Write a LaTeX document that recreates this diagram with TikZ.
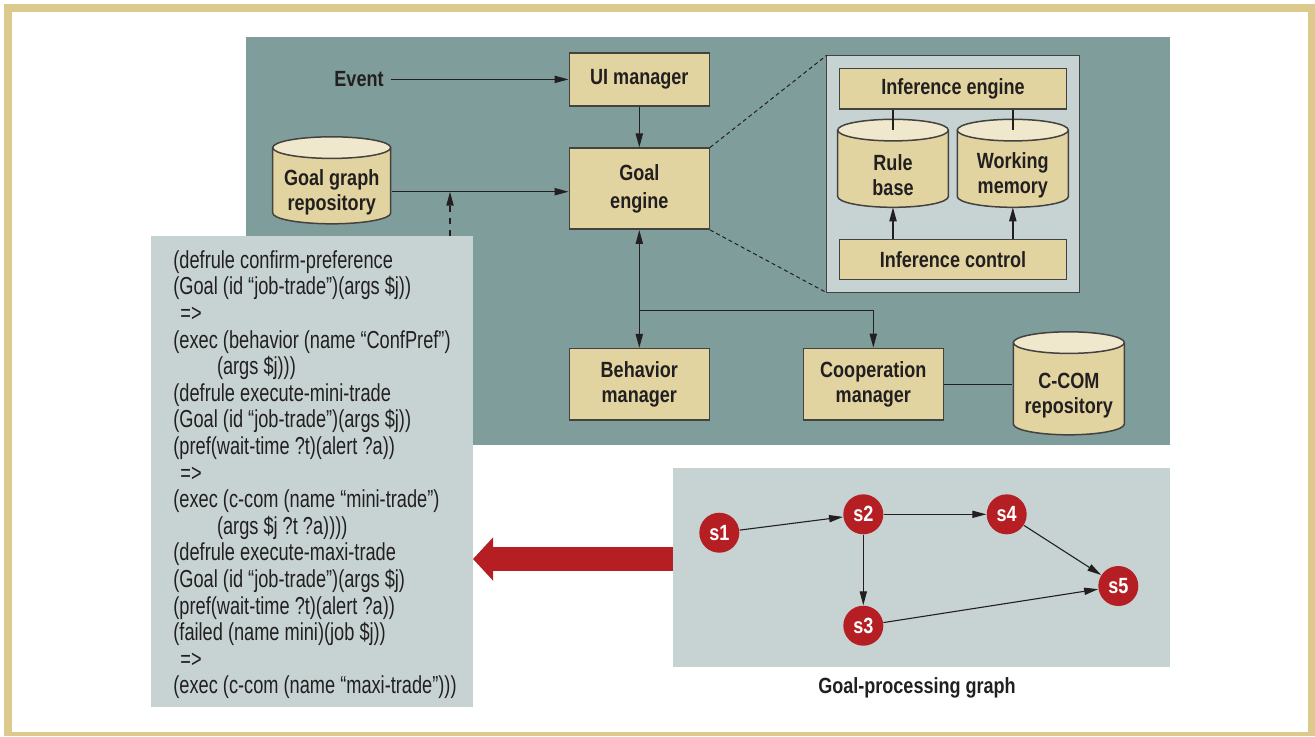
\documentclass[tikz,border=0pt]{standalone}
\usepackage{fontspec}
\setmainfont{Liberation Sans}[FakeStretch=0.82]
\newfontfamily\codefont{Liberation Sans}[FakeStretch=0.74]
\usetikzlibrary{arrows.meta,calc}

\definecolor{frametan}{HTML}{DCCA8C}
\definecolor{panelteal}{HTML}{7F9E9B}
\definecolor{panellight}{HTML}{C6D3D2}
\definecolor{boxtan}{HTML}{E2D4A0}
\definecolor{captan}{HTML}{F0E8CC}
\definecolor{statered}{HTML}{B51F24}
\definecolor{ink}{HTML}{231F20}

\tikzset{
  panel/.style={inner sep=0pt, outer sep=0pt},
  box/.style={draw=ink!85, line width=0.75pt, fill=boxtan, text=ink,
    font=\fontsize{11}{12.5}\selectfont\bfseries, align=center, inner sep=0pt},
  % a drum: body and lid drawn inside the node's box, text sits below the lid
  store/.style={inner sep=0pt, outer sep=0pt, text=ink,
    font=\fontsize{11}{12.5}\selectfont\bfseries,
    execute at begin node={\begin{minipage}[c][32pt][b]{54pt}\centering},
    execute at end node={\end{minipage}},
    path picture={
      \coordinate (drumnw) at ([shift={(0.5pt,-0.5pt)}]path picture bounding box.north west);
      \coordinate (drumse) at ([shift={(-0.5pt,0.5pt)}]path picture bounding box.south east);
      \draw[draw=ink!85, line width=0.75pt, fill=boxtan]
        let \p1=(drumnw), \p2=(drumse), \n1={(\x2-\x1)/2} in
        (\x1,\y1-5.4pt) -- (\x1,\y2+5.4pt)
        arc[start angle=180, end angle=360, x radius=\n1, y radius=5.4pt]
        -- (\x2,\y1-5.4pt);
      \draw[draw=ink!85, line width=0.75pt, fill=captan]
        let \p1=(drumnw), \p2=(drumse), \n1={(\x2-\x1)/2} in
        ({(\x1+\x2)/2},\y1-5.4pt) ellipse[x radius=\n1, y radius=5.4pt];
    }},
  state/.style={circle, fill=statered, text=white, minimum size=20pt,
    inner sep=0pt, font=\fontsize{11}{12}\selectfont\bfseries},
  link/.style={draw=ink, line width=0.7pt},
  edge/.style={draw=ink, line width=0.55pt}
}

\begin{document}
\begin{tikzpicture}[x=0.5pt, y=-0.5pt, >={Triangle[length=7pt,width=3.6pt]}]

	\useasboundingbox (0,0) rectangle (1315,736);
	\fill[white] (0,0) rectangle (1315,736);
	% frame
	\fill[frametan] (4,4) rectangle (1315,736);
	\fill[white] (12,12) rectangle (1308,732);

	% panels
	\node[panel, fill=panelteal, minimum width=462pt, minimum height=204pt] (main) at (708,241) {};
	\node[panel, fill=panellight, minimum width=161pt, minimum height=235.5pt] (code) at (312,471.5) {};
	\node[panel, fill=panellight, minimum width=248.5pt, minimum height=99.5pt] (gp) at (921.5,567.5) {};
	\node[panel, fill=panellight, draw=ink!85, line width=0.75pt, minimum width=126.3pt, minimum height=118.7pt] (ip) at (953,174) {};

	% agent components
	\node[box, minimum width=70pt, minimum height=26.5pt] (ui) at (639.3,79.4) {UI manager};
	\node[box, minimum width=70pt, minimum height=40.5pt, font=\fontsize{11}{14}\selectfont\bfseries] (ge) at (639.3,188.7) {Goal\\engine};
	\node[box, minimum width=70pt, minimum height=35.7pt] (bm) at (639.3,384.3) {Behavior\\manager};
	\node[box, minimum width=70pt, minimum height=35.8pt] (cm) at (873.3,384.2) {Cooperation\\manager};
	\node[store, minimum width=60pt, minimum height=44.5pt] (ggr) at (331.7,180.3) {Goal graph\\repository};
	\node[store, minimum width=56.5pt, minimum height=52.5pt] (ccom) at (1068.8,383.3) {C-COM\\repository};
	\node[text=ink, font=\fontsize{11}{12.5}\selectfont\bfseries] (event) at (359,79.4) {Event};

	% inference engine detail
	\node[box, minimum width=113.7pt, minimum height=20.4pt] (ie) at (953,88.7) {Inference engine};
	\node[box, minimum width=113.7pt, minimum height=20pt] (ic) at (953,259.3) {Inference control};
	\node[store, minimum width=56.3pt, minimum height=45pt] (rb) at (893,163.3) {Rule\\base};
	\node[store, minimum width=56.5pt, minimum height=45pt] (wm) at (1012.8,163.3) {Working\\memory};

	% connectors
	\coordinate (tap) at (450,191.7);
	\draw[link,->] (event) -- (ui);
	\draw[link,->] (ui) -- (ge);
	\draw[link,->] (ggr.east |- tap) -- (ge.west |- tap);
	\draw[link,dashed,->] (code.north -| tap) -- (tap);
	\draw[link,<->] (ge) -- (bm);
	\coordinate (split) at ($(ge.south)!0.685!(bm.north)$);
	\draw[link,->] (split) -| (cm.north);
	\draw[link] (cm.east) -- (cm.east -| ccom.west);
	\draw[link,dash pattern=on 2pt off 1.5pt,line width=0.5pt] (ge.north east) -- (ip.north west);
	\draw[link,dash pattern=on 2pt off 1.5pt,line width=0.5pt] (ge.south east) -- (ip.south west);
	\draw[link] (ie.south -| rb) -- ([yshift=-5.9pt]rb.north);
	\draw[link] (ie.south -| wm) -- ([yshift=-5.9pt]wm.north);
	\draw[link,->] (ic.north -| rb) -- ([yshift=0.5pt]rb.south);
	\draw[link,->] (ic.north -| wm) -- ([yshift=0.5pt]wm.south);

	% rules
	\node[anchor=north west, align=left, inner sep=0pt, text=ink,
	  font=\codefont\fontsize{12.3}{13.3}\selectfont] (rules) at (173,250) {%
	(defrule confirm-preference\\
	(Goal (id “job-trade”)(args \$j))\\
	\hspace*{3.5pt}=>\\
	(exec (behavior (name “ConfPref”)\\
	\hspace*{21.8pt}(args \$j)))\\
	(defrule execute-mini-trade\\
	(Goal (id “job-trade”)(args \$j))\\
	(pref(wait-time ?t)(alert ?a))\\
	\hspace*{3.5pt}=>\\
	(exec (c-com (name “mini-trade”)\\
	\hspace*{21.8pt}(args \$j ?t ?a))))\\
	(defrule execute-maxi-trade\\
	(Goal (id “job-trade”)(args \$j)\\
	(pref(wait-time ?t)(alert ?a))\\
	(failed (name mini)(job \$j))\\
	\hspace*{3.5pt}=>\\
	(exec (c-com (name “maxi-trade”)))};

	% goal-processing graph
	\node[state] (s1) at (719.3,532.7) {s1};
	\node[state] (s2) at (863.3,514.3) {s2};
	\node[state] (s3) at (863.3,625.7) {s3};
	\node[state] (s4) at (1006.7,514.3) {s4};
	\node[state] (s5) at (1118.3,586) {s5};
	\draw[edge,->] (s1) -- (s2);
	\draw[edge,->] (s2) -- (s4);
	\draw[edge,->] (s2) -- (s3);
	\draw[edge,->] (s4) -- (s5);
	\draw[edge,->] (s3) -- (s5);
	\node[text=ink, font=\fontsize{11}{12.5}\selectfont\bfseries] (caption) at (917,688) {Goal-processing graph};

	% big red arrow
	\draw[statered, line width=12pt, -{Triangle[width=21pt,length=10pt]}] ([yshift=4.25pt]gp.west) -- ([yshift=4.25pt]gp.west -| code.east);
\end{tikzpicture}
\end{document}
